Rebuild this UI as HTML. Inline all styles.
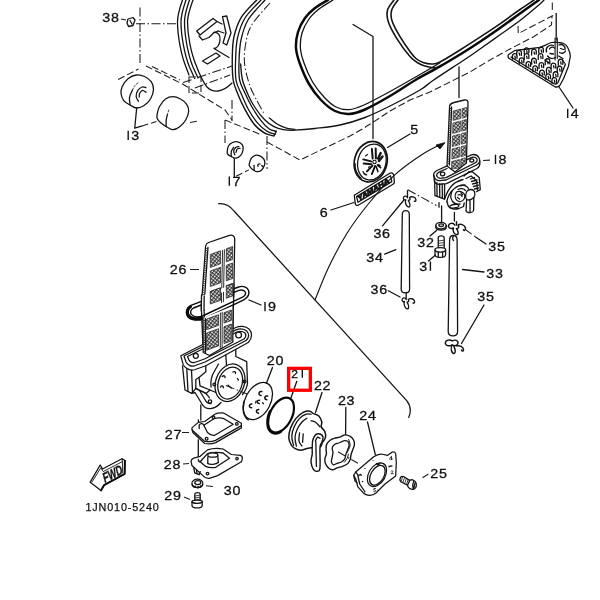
<!DOCTYPE html>
<html>
<head>
<meta charset="utf-8">
<title>Fuel tank parts diagram</title>
<style>
html,body{margin:0;padding:0;background:#fff;}
body{width:600px;height:600px;overflow:hidden;font-family:"Liberation Sans",sans-serif;}
svg{will-change:transform;display:block;position:absolute;left:0;top:0;}
.l{fill:none;stroke:#141414;stroke-width:1.3;stroke-linecap:round;stroke-linejoin:round;}
.m{fill:none;stroke:#0d0d0d;stroke-width:2;stroke-linecap:round;stroke-linejoin:round;}
.b{fill:none;stroke:#0a0a0a;stroke-width:2.5;stroke-linecap:round;stroke-linejoin:round;}
.w{fill:#fff;stroke:#141414;stroke-width:1.3;stroke-linecap:round;stroke-linejoin:round;}
.d{fill:none;stroke:#1c1c1c;stroke-width:1.05;stroke-dasharray:7 3;}
.dd{fill:none;stroke:#1c1c1c;stroke-width:1.05;stroke-dasharray:9 2.5 1.5 2.5;}
.t{font-family:"Liberation Sans",sans-serif;font-size:12.6px;fill:#111;stroke:#111;stroke-width:0.3px;}
.ts{font-family:"Liberation Sans",sans-serif;font-size:10.8px;letter-spacing:0.85px;fill:#111;stroke:#111;stroke-width:0.25px;}
</style>
</head>
<body>
<svg width="600" height="600" viewBox="0 0 600 600">
<rect x="0" y="0" width="600" height="600" fill="#fff"/>

<!-- ===== TANK: left strip ===== -->
<g id="tank">
<path class="l" d="M182.5,0 C179,10 177.5,15 177.5,22 C177.5,35 181,55 186,67 L189,75"/>
<path class="l" d="M186,0 C182.5,10 181,15 181,22 C181,35 184.5,55 189.5,67 L194,77"/>
<path class="l" d="M189.5,0 C186,10 184.5,15 184.5,22 C184.5,35 188,55 193,67 L198,78"/>
<path class="l" d="M193,0 C189.5,10 187.5,15 187.5,22 C187.5,35 191,53 196,65 C199,73 203,82 207,87 C213,93 222,93 232,83"/>
<!-- right strip -->
<path class="l" style="stroke-width:1.4" d="M256.7,0.0 C254.2,2.8 245.5,10.6 241.7,16.7 C237.9,22.8 235.6,29.8 234.0,36.7 C232.4,43.6 232.4,50.8 232.3,58.0 C232.2,65.2 232.3,74.0 233.2,80.0 C234.1,86.0 235.9,89.1 237.8,94.0 C239.7,98.9 242.1,104.2 244.8,109.2 C247.5,114.2 250.9,120.3 254.2,124.3 C257.5,128.3 261.4,131.2 264.7,133.1 C268.0,135.0 272.4,135.5 274.0,136.0 L276.3,131.3"/>
<path class="l" d="M261.0,0.0 C258.3,3.0 248.9,11.7 245.0,18.0 C241.1,24.3 239.1,31.0 237.5,38.0 C235.9,45.0 235.8,53.0 235.6,60.0 C235.3,67.0 235.1,74.3 236.0,80.0 C236.9,85.7 239.2,89.1 241.3,94.0 C243.4,98.9 245.6,104.3 248.3,109.2 C251.0,114.1 254.6,119.5 257.7,123.2 C260.8,126.9 264.1,129.5 267.0,131.3 C269.9,133.2 273.8,133.8 275.2,134.3"/>
<path class="l" d="M265.0,0.0 C262.2,3.3 252.0,13.3 248.0,20.0 C244.0,26.7 242.5,33.0 241.0,40.0 C239.5,47.0 239.2,55.3 239.0,62.0 C238.8,68.7 238.6,74.9 239.6,80.0 C240.6,85.1 242.8,88.3 244.8,92.8 C246.8,97.3 249.1,102.1 251.8,106.8 C254.5,111.5 258.3,117.1 261.2,120.8 C264.1,124.5 266.8,127.2 269.3,129.0 C271.8,130.8 275.1,130.9 276.3,131.3"/>
<path class="l" style="stroke-width:0.8;stroke-dasharray:1.2 1.2" d="M246.0,111.5 C247.5,113.8 251.8,121.8 255.0,125.5 C258.2,129.2 263.8,132.6 265.5,134.0"/>
<path class="dd" d="M270.0,3.0 C266.9,6.7 255.7,18.3 251.7,25.0 C247.7,31.7 247.0,36.7 245.8,43.0 C244.6,49.3 243.9,56.0 244.5,63.0 C245.1,70.0 247.7,79.0 249.5,84.7 C251.3,90.5 253.0,92.8 255.3,97.5 C257.6,102.2 262.1,110.2 263.5,112.7"/>
<path class="l" d="M269.3,118.0 C270.7,119.0 274.8,122.7 277.5,124.3 C280.2,125.9 282.8,126.9 285.7,127.8 C288.6,128.7 293.4,129.1 295.0,129.4"/>
</g>
<g id="tank2">
<!-- tank body bottom thin line -->
<path class="l" style="stroke-width:1.35" d="M240.6,64.0 C240.9,66.7 241.2,74.8 242.5,80.0 C243.8,85.2 246.2,90.5 248.3,95.2 C250.4,99.9 252.6,103.9 255.3,108.0 C258.0,112.1 261.6,116.6 264.7,119.7 C267.8,122.8 270.9,125.1 274.0,126.7 C277.1,128.3 279.8,129.0 283.3,129.6 C286.8,130.2 289.7,130.4 295.0,130.2 C300.3,130.0 307.5,129.4 315.0,128.5 C322.5,127.6 331.7,126.8 340.0,125.0 C348.3,123.2 356.7,120.7 365.0,117.5 C373.3,114.3 380.8,110.6 390.0,106.0 C399.2,101.4 412.8,94.2 420.0,90.0 C427.2,85.8 425.7,85.5 433.0,80.5 C440.3,75.5 456.2,65.2 464.0,60.0 C471.8,54.8 474.0,53.2 480.0,49.0 C486.0,44.8 493.3,39.5 500.0,34.8 C506.7,30.0 513.3,25.6 520.0,20.5 C526.7,15.4 536.0,7.4 540.0,4.0 C544.0,0.6 543.3,0.7 544.0,0.0"/>
<!-- first kneepad thick outline -->
<path class="b" d="M328.0,0.0 C325.8,1.3 318.8,5.0 315.0,8.0 C311.2,11.0 307.8,14.0 305.0,18.0 C302.2,22.0 299.5,27.0 298.0,32.0 C296.5,37.0 295.7,42.7 296.0,48.0 C296.3,53.3 297.8,58.0 300.0,64.0 C302.2,70.0 305.5,78.0 309.0,84.0 C312.5,90.0 316.7,95.5 321.0,100.0 C325.3,104.5 330.3,108.7 335.0,111.0 C339.7,113.3 344.0,114.2 349.0,114.0 C354.0,113.8 358.2,112.5 365.0,109.5 C371.8,106.5 381.6,100.9 390.0,96.0 C398.4,91.1 407.2,84.9 415.5,80.0 C423.8,75.1 432.6,70.7 440.0,66.4 C447.4,62.2 453.3,58.6 460.0,54.5 C466.7,50.4 473.3,46.1 480.0,41.7 C486.7,37.3 493.3,32.7 500.0,28.0 C506.7,23.3 513.5,18.2 520.0,13.5 C526.5,8.8 535.8,2.2 539.0,0.0"/>
<path class="l" d="M333.0,0.0 C330.7,1.5 323.0,5.8 319.0,9.0 C315.0,12.2 311.8,15.0 309.0,19.0 C306.2,23.0 303.4,28.2 302.0,33.0 C300.6,37.8 300.1,43.0 300.4,48.0 C300.7,53.0 302.0,57.3 304.0,63.0 C306.0,68.7 309.3,76.3 312.6,82.0 C315.9,87.7 320.1,92.8 324.0,97.0 C327.9,101.2 331.8,104.9 336.0,107.0 C340.2,109.1 344.3,109.9 349.0,109.6 C353.7,109.3 357.2,108.0 364.0,105.0 C370.8,102.0 380.7,96.6 390.0,91.5 C399.3,86.4 411.7,79.3 420.0,74.5 C428.3,69.7 436.7,64.7 440.0,62.7"/>
<!-- second kneepad -->
<path class="l" style="stroke-width:1.6" d="M394.0,0.0 C392.9,1.7 388.4,6.4 387.5,10.0 C386.6,13.6 386.8,17.0 388.3,21.7 C389.8,26.4 393.1,32.5 396.7,38.3 C400.3,44.1 406.4,52.4 410.0,56.5 C413.6,60.6 415.5,61.4 418.0,63.0 C420.5,64.6 422.5,65.2 425.0,66.0 C427.5,66.8 430.8,67.5 433.0,67.8 C435.2,68.0 437.2,67.5 438.0,67.5"/>
<path class="l" style="stroke-width:1.6" d="M398.0,0.0 C396.9,1.7 392.7,6.5 391.7,10.0 C390.7,13.5 390.6,16.4 392.0,20.8 C393.4,25.2 397.0,31.6 400.0,36.7 C403.0,41.8 407.3,47.9 410.0,51.5 C412.7,55.1 413.8,56.7 416.0,58.5 C418.2,60.3 420.3,61.6 423.0,62.5 C425.7,63.4 429.2,64.1 432.0,64.0 C434.8,63.9 435.3,64.3 440.0,62.0 C444.7,59.7 453.3,54.1 460.0,50.0 C466.7,45.9 473.3,41.6 480.0,37.2 C486.7,32.8 493.3,28.4 500.0,23.8 C506.7,19.2 514.3,13.5 520.0,9.5 C525.7,5.5 531.7,1.6 534.0,0.0"/>
<!-- dashed tank lines -->
<path class="d" d="M267,142 L300,160 L350,136 C365,128 378,119 390,111 L410,100 L430,92 L450,82 L470,72 L490,60 L510,49 L534,36.5 L551.5,25 L552,16"/>
<path class="d" d="M518,26 L518.3,33.5 L553,15.5"/>

<!-- clip between strips -->
<path class="l" d="M196.7,31 L213,18.5 L217,21.5 L200,35 Z"/>
<path class="l" d="M199,36 L202.5,40 L209,37.5 L214,32.5 L218,31"/>
<path class="l" d="M222.5,16.7 L226.7,16 L231,33 L226.7,45 L223,43 L226,33 Z"/>
<path class="l" d="M214,32.5 C218,32 220.5,35 220,40 C219.5,45 217,48 214,48.5 L229,57.5"/>
<path class="l" d="M202.5,61 L216,53 L220,56 L207.5,64 Z"/>
<path class="l" d="M217,21.5 L222,24 M218,31 L224,33"/>
<!-- dashed construction lines top-left -->
<path class="dd" d="M140,7.5 L140,65"/>
<path class="dd" d="M136,23.7 L176,23.7"/>
<path class="d" d="M118.2,79.5 L138.5,69"/>
<path class="d" d="M146,66 L182.5,84 L225,110 L232,120"/>
<path class="d" d="M152,66.5 L180,80"/>
<path class="dd" d="M183,82.5 L232,66"/>
<path class="dd" d="M195,88 L230,75"/>
<path class="d" d="M189,77 L201,77 L201,93 L189,93 Z" stroke-dasharray="3 2"/>
<path class="dd" d="M225,120 L225,143"/>
<path class="dd" d="M232,100 L232,121"/>
<path class="d" d="M225,120 L262,135"/>
<path class="dd" d="M267,136 L267,169"/>
<path class="d" d="M190,122.5 L199,121"/>
<!-- cushions 13 -->
<path class="w" style="stroke-width:1.3" d="M121.2,94.5 C120.8,92.1 120.9,89.6 122.0,87.0 C123.1,84.4 125.6,80.7 128.0,78.7 C130.4,76.7 133.4,75.4 136.2,75.0 C138.9,74.6 142.0,75.4 144.5,76.5 C147.0,77.6 149.7,79.6 151.2,81.7 C152.7,83.8 153.6,86.3 153.5,89.2 C153.4,92.1 152.1,96.2 150.5,99.0 C148.9,101.8 146.1,104.2 143.7,105.7 C141.3,107.2 138.4,108.1 136.2,108.0 C133.9,107.9 132.2,106.1 130.2,105.0 C128.2,103.9 125.7,103.0 124.2,101.2 C122.7,99.5 121.6,96.9 121.2,94.5 Z"/>
<path class="l" d="M130.2,105.0 C130.1,103.8 129.1,100.0 129.5,97.5 C129.9,95.0 132.0,91.2 132.5,90.0"/>
<path class="l" style="stroke-width:0.8;stroke-dasharray:2 1.5" d="M132.5,90.0 C132.9,89.2 133.9,86.8 135.0,85.5 C136.1,84.2 138.3,82.6 139.0,82.0"/>
<path class="l" d="M146.0,87.7 C145.4,87.6 143.6,86.5 142.2,87.0 C140.8,87.5 138.7,89.1 137.7,90.7 C136.7,92.3 136.1,95.0 136.2,96.7 C136.3,98.5 138.1,100.5 138.5,101.2"/>
<path class="l" d="M146.0,92.2 C145.4,91.9 143.6,90.1 142.5,90.3 C141.4,90.5 140.2,92.4 139.6,93.5 C139.0,94.6 139.3,96.4 139.2,97.0"/>
<path class="w" style="stroke-width:1.3" d="M157.2,114.0 C157.6,112.0 158.1,109.0 159.5,106.5 C160.9,104.0 163.2,100.6 165.5,99.0 C167.8,97.4 170.5,96.7 173.0,96.7 C175.5,96.7 178.2,97.8 180.5,99.0 C182.8,100.2 185.1,102.2 186.5,104.2 C187.9,106.2 188.8,108.4 188.7,111.0 C188.6,113.6 187.2,117.4 185.7,120.0 C184.2,122.6 181.8,125.1 179.7,126.7 C177.6,128.3 175.0,129.6 173.0,129.7 C171.0,129.8 169.7,128.6 167.7,127.5 C165.7,126.4 162.8,124.5 161.0,123.0 C159.2,121.5 157.8,120.0 157.2,118.5 C156.6,117.0 156.8,116.0 157.2,114.0 Z"/>
<path class="l" d="M166.2,126.5 C166.2,125.4 166.0,121.9 166.2,120.0 C166.4,118.1 167.1,115.8 167.3,115.0"/>
<path class="l" style="stroke-width:0.8;stroke-dasharray:2 1.5" d="M167.3,115 L168.8,110"/>
<path class="l" d="M136.7,108 L134.7,128.2 L141.5,126.2"/>
<path class="d" stroke-dasharray="4 2" d="M141.5,126.2 L156.5,121.5"/>
<!-- cushions 17 -->
<path class="w" style="stroke-width:1.3" d="M227.2,151.8 C227.3,150.4 227.5,147.6 228.4,146.0 C229.3,144.4 230.9,143.2 232.5,142.5 C234.1,141.8 236.2,141.5 237.8,141.9 C239.5,142.3 241.5,143.5 242.4,144.8 C243.3,146.2 243.3,148.2 243.0,150.0 C242.7,151.8 241.9,153.9 240.7,155.3 C239.5,156.7 237.6,158.0 236.0,158.2 C234.4,158.4 232.7,157.2 231.3,156.5 C229.9,155.8 228.5,155.0 227.8,154.2 C227.1,153.4 227.1,153.2 227.2,151.8 Z"/>
<path class="l" d="M231.3,156.5 C231.3,155.6 230.9,152.9 231.3,151.3 C231.7,149.8 233.3,147.9 233.7,147.2"/>
<path class="l" d="M238.9,146.6 C238.4,146.7 236.9,146.5 236.0,147.2 C235.1,147.9 233.9,149.4 233.7,150.7 C233.5,152.0 234.6,154.1 234.8,154.8"/>
<path class="l" d="M240.0,148.3 C239.6,148.4 238.0,148.2 237.3,148.9 C236.6,149.6 236.2,151.8 236.0,152.4"/>
<path class="w" style="stroke-width:1.3" d="M249.4,163.5 C249.7,162.2 250.2,159.7 251.2,158.3 C252.2,156.9 253.9,155.7 255.3,155.3 C256.8,154.9 258.4,155.2 259.9,155.9 C261.3,156.6 263.2,157.9 264.0,159.4 C264.8,160.9 265.0,162.9 264.6,164.7 C264.2,166.4 263.0,168.7 261.7,169.9 C260.4,171.1 258.6,171.8 257.0,171.7 C255.4,171.6 253.6,170.3 252.3,169.3 C251.0,168.3 249.9,166.8 249.4,165.8 C248.9,164.8 249.1,164.8 249.4,163.5 Z"/>
<path class="l" d="M254.1,169.9 L254.1,165.3"/>
<path class="l" d="M260,164 c-1.5,-0.5 -2.8,1 -2,2.4 M261.8,165.5 l0.8,1"/>
<path class="l" d="M234.3,158.3 L234.3,177"/>
<path class="d" stroke-dasharray="3.5 2.5" d="M236,176.3 L248.8,169.9"/>
<!-- part 38 -->
<path class="l" d="M128,19 L133,17.5 L135,20 L133,25.5 L128.5,26.5 L127,23 Z M130,20.5 L132,24"/>
<path class="d" d="M121,19 L126,20" stroke-dasharray="1.5 1.5"/>

</g>
<defs>
<pattern id="hatch" width="2.7" height="2.7" patternUnits="userSpaceOnUse" patternTransform="rotate(38)">
<rect width="2.7" height="2.7" fill="#fff"/>
<path d="M0,0.7 H2.7 M0.7,0 V2.7" stroke="#151515" stroke-width="0.92"/>
</pattern>
</defs>
<!-- ===== part 14 ===== -->
<g id="p14">
<path class="dd" d="M552.3,2.5 L552.3,10"/>
<path class="w" style="stroke-width:1.3" d="M508,56 C508,55 508.3,54.8 509,54.3 L515.3,50.3 L527.7,49 L540,47.3 L546.2,44.8 C549,43 552,42.2 555,42.2 L562.3,43 C565.5,44 567.5,46.5 568.4,49 C569.8,52 570.4,54 570.3,56.5 L568.4,66.4 L563.5,78.7 L559.8,85.5 C558.5,87 556.5,87.2 554.9,86.8 L508.5,58 Z"/>
<path class="l" d="M511,57 L553.8,83.6 C555.5,84.3 557,84 558,82.6 L565.5,64"/>
<path fill="none" stroke="#111" stroke-width="1.3" stroke-linecap="round" stroke-linejoin="round" d="M512.5,59.2 L512.4,56.2 C512.4,52.8 517.1,52.6 517.1,56.0 L517.0,58.4 M514.9,56.2 l0.4,2.2 M519.3,63.5 L519.2,60.5 C519.2,57.1 523.9,56.9 523.9,60.3 L523.8,62.7 M521.7,60.5 l0.4,2.2 M526.1,67.2 L526.0,64.2 C526.0,60.8 530.7,60.6 530.7,64.0 L530.6,66.4 M528.5,64.2 l0.4,2.2 M532.9,71.5 L532.8,68.5 C532.8,65.1 537.5,64.9 537.5,68.3 L537.4,70.7 M535.3,68.5 l0.4,2.2 M539.7,75.8 L539.6,72.8 C539.6,69.4 544.3,69.2 544.3,72.6 L544.2,75.0 M542.1,72.8 l0.4,2.2 M545.9,79.5 L545.8,76.5 C545.8,73.1 550.5,72.9 550.5,76.3 L550.4,78.7 M548.3,76.5 l0.4,2.2 M552.0,83.2 L551.9,80.2 C551.9,76.8 556.6,76.6 556.6,80.0 L556.5,82.4 M554.4,80.2 l0.4,2.2 M516.8,56.2 L516.7,53.0 C516.7,49.6 521.4,49.4 521.4,52.8 L521.3,55.4 M519.2,53.0 l0.4,2.2 M524.3,59.4 L524.2,56.2 C524.2,52.8 528.9,52.6 528.9,56.0 L528.8,58.6 M526.7,56.2 l0.4,2.2 M531.7,64.1 L531.6,60.9 C531.6,57.5 536.3,57.3 536.3,60.7 L536.2,63.3 M534.1,60.9 l0.4,2.2 M539.1,68.4 L539.0,65.2 C539.0,61.8 543.7,61.6 543.7,65.0 L543.6,67.6 M541.5,65.2 l0.4,2.2 M546.5,73.3 L546.4,70.1 C546.4,66.7 551.1,66.5 551.1,69.9 L551.0,72.5 M548.9,70.1 l0.4,2.2 M553.3,77.6 L553.2,74.4 C553.2,71.0 557.9,70.8 557.9,74.2 L557.8,76.8 M555.7,74.4 l0.4,2.2 M524.3,53.8 L524.2,50.6 C524.2,47.2 528.9,47.0 528.9,50.4 L528.8,53.0 M526.7,50.6 l0.4,2.2 M531.7,55.0 L531.6,51.8 C531.6,48.4 536.3,48.2 536.3,51.6 L536.2,54.2 M534.1,51.8 l0.4,2.2 M538.3,59.4 L538.2,56.2 C538.2,52.8 542.9,52.6 542.9,56.0 L542.8,58.6 M540.7,56.2 l0.4,2.2 M545.3,64.6 L545.2,61.4 C545.2,58.0 549.9,57.8 549.9,61.2 L549.8,63.8 M547.7,61.4 l0.4,2.2 M551.2,68.9 L551.1,65.7 C551.1,62.3 555.8,62.1 555.8,65.5 L555.7,68.1 M553.6,65.7 l0.4,2.2 M557.3,72.1 L557.2,68.9 C557.2,65.5 561.9,65.3 561.9,68.7 L561.8,71.3 M559.7,68.9 l0.4,2.2 M538.8,53.1 L538.7,49.9 C538.7,46.5 543.4,46.3 543.4,49.7 L543.3,52.3 M541.2,49.9 l0.4,2.2 M558.3,65.1 L558.2,61.9 C558.2,58.5 562.9,58.3 562.9,61.7 L562.8,64.3 M560.7,61.9 l0.4,2.2 "/>
<path fill="none" stroke="#111" stroke-width="1.3" stroke-linecap="round" d="M546.5,52 c-1.5,-4.5 3,-8 7,-6.5 M547.5,56 c2,2.5 5.5,3 8,1.5 M549.5,49 c1,-2 3.5,-2.5 5,-1 M550,53.5 l3.5,0.5 M559,45 c3.5,-1.5 6.5,1 6,4.5 M559.5,52.5 c2.5,1.5 5,0.5 6,-1.5 M560.5,48.5 l3,1 M558.5,56 l4.5,2.5 M545,60 l4,3 M562.5,60 l2,3"/>
<path class="l" d="M556.2,13.5 L556.2,40"/>
<path class="l" style="stroke-width:1.1" d="M555.1,38 L555.1,60 M557.3,38 L557.3,58.5"/>
<path class="l" d="M558.7,86.5 L573,108"/>
</g>
<!-- ===== strainer + petcock 18 ===== -->
<g id="p18">
<path class="l" d="M459,67 L459,97.5"/>
<path class="w" d="M449.6,106 C450,104 452,103 454,102.5 L464.5,100 C467,99.6 468.2,100.5 468,103 L466.4,163 L455,172 L447,166 Z"/>
<path class="l" d="M451.6,107 L449.4,165"/>
<path d="M450.5,108 L448.5,164" fill="none" stroke="#222" stroke-width="1.2" stroke-dasharray="0.9 1.3"/>
<g fill="url(#hatch)" stroke="#222" stroke-width="0.6">
<path d="M453.2,111 L460.8,109 L460.6,118.5 L453,120.5 Z"/>
<path d="M462.2,108.6 L466.8,107.4 L466.6,117 L462,118.2 Z"/>
<path d="M452.9,123 L460.5,121 L460.2,131.5 L452.6,133.5 Z"/>
<path d="M461.9,120.6 L466.5,119.4 L466.2,130 L461.6,131.2 Z"/>
<path d="M452.5,136 L460.1,134 L459.9,144.5 L452.2,146.5 Z"/>
<path d="M461.5,133.6 L466.1,132.4 L465.9,143 L461.3,144.2 Z"/>
<path d="M452.1,149 L459.8,147 L459.5,157 L451.8,159 Z"/>
<path d="M461.2,146.6 L465.8,145.4 L465.5,155.5 L460.9,156.7 Z"/>
<path d="M451.7,161.5 L459.4,159.5 L459.2,168 L451.5,169 Z"/>
<path d="M460.8,159 L465.4,157.8 L465.2,163.5 L460.6,166.5 Z"/>
</g>
<!-- flange -->
<path class="l" d="M447.2,165.8 L437,170.5 C434,172 433,174.5 434.2,177 C435.5,179.8 438.5,181 441.5,180.3 L446,180 L476.5,165 C479.5,163.5 480.3,160.5 479,157.8 C477.5,155 474.5,154 471.5,154.8 L466.6,157"/>
<path class="l" d="M447,168.5 L439,172.2 C437,173.3 436.3,175 437,176.5 C438,178.2 440,178.6 442,178 L446,177.6 L475,163 C477,162 477.6,160.3 476.8,158.8 C475.8,157.2 474,156.8 472,157.3 L466.5,159.8"/>
<path class="l" d="M434,176 L434.3,181 C435.5,184 438.5,184.8 441.5,184 L446.5,183.6 L477,168.5 C479.5,167 480.3,165 479.8,161"/>
<ellipse class="l" cx="442.6" cy="174" rx="2.2" ry="1.8"/>
<ellipse class="l" cx="471.8" cy="160.4" rx="2" ry="1.6"/>
<!-- body -->
<path class="l" d="M434.6,180.5 L435,195.7 L444.5,199.2 L444.6,184.5 M436.9,182.5 L437.1,196.4 M439.6,183.6 L439.8,197.4 M442.2,184.2 L442.4,198.4"/>
<path class="l" d="M444.6,199 C446,195 448,189.5 452,185.5 C455,182.5 459,180.5 463,179.5"/>
<path class="l" d="M446.8,201.5 C448,196 450.5,191.5 454.5,188.5 C457.5,186 461.5,184.5 465,185"/>
<path class="l" d="M452,191.5 C450.5,194.5 450.5,198.5 452.5,201.5 C454,203.5 457,204.5 460,204"/>
<path class="l" d="M468.7,172 L472,171.5 L479.2,177.5 L480.3,189.6 L476.4,191.8"/>
<path class="l" d="M464,176 L468.7,172 M466,178.5 L471,176 L476.5,180.5 L477.5,190"/>
<path class="l" d="M470.5,179 L474.5,177.5 M471.5,181.5 L477,180 M472.5,184 L478,182.5 M473.5,186.5 L478.5,185.2 M474.5,189 L478.5,188"/>
<path class="l" d="M460,186 C463,184.5 467,185.5 468.5,188.5 M458,189.5 C460.5,188 464,188.5 465.5,190.5"/>
<path d="M456.5,192 C459,190.5 463,191.5 464.5,194.5 C465.5,197.5 464,200.5 461,201.5 C458,202 455.5,200 455.2,197 C455,195 455.5,193.2 456.5,192 Z" fill="#fff" stroke="#141414" stroke-width="1.2"/>
<path class="l" d="M458,195 C459.5,194 461.5,194.8 462,196.5 M457.5,197.5 l2,1.5 M461,192.8 l1.6,2"/>
<path class="w" d="M466.8,191.5 C468.5,188.8 473,188.8 474.4,191.5 C475.2,193.5 474.8,196 473.8,197.5 L473.6,210.5 C473.2,212.6 469.5,213.2 466.8,211.8 C465.8,211 465.8,209.5 466.2,208.5 L466.6,199.5 C465.2,197.5 465.5,193.5 466.8,191.5 Z"/>
<path class="l" d="M466.7,199.5 C468.5,200.3 471.5,199.8 473.7,197.5 M470,200.5 L470,211.5"/>
<path class="l" d="M446.8,201.5 L448.5,206.5 C450,209 455,209.5 459,208.5 L463.5,206.5 L464.2,203"/>
<ellipse class="l" cx="454.3" cy="206.2" rx="4.6" ry="1.7" transform="rotate(-8 454.3 206.2)"/>
<path class="l" d="M439,202.6 L439,207.2 M441.6,206 L441.6,221.5 M454.4,212.5 L454.4,221"/>
</g>

<!-- ===== emblems 5 / 6 ===== -->
<g id="emblems">
<path class="l" d="M353,24.5 L373,36.5 L373,138.5"/>
<g transform="translate(370.7,161.7) rotate(15)">
<ellipse class="w" cx="0" cy="0" rx="16.3" ry="20.5" style="stroke-width:1.7"/>
<ellipse class="l" cx="1.2" cy="0" rx="14" ry="18.2"/>
<path class="l" d="M-14.5,6 C-13.5,11 -10,16 -5,18.5"/>
</g>
<g transform="translate(374.5,162)" stroke="#111" fill="none" stroke-linecap="round">
<circle cx="0" cy="0" r="1.7" stroke-width="1.1"/>
<path stroke-width="2" d="M-1.8,-3.4 L-2.6,-13 M1.4,-3.6 L1.2,-13.5"/>
<path stroke-width="2" d="M-3.4,-0.6 L-11.2,-2.6 M-3.2,2.2 L-10.8,1.6"/>
<path stroke-width="2" d="M-2,3.6 L-7.5,9.4 M0.6,4 L-2.6,12"/>
<path stroke-width="2.4" d="M3.6,-3.4 L6.2,-9 M4.4,-1 L8,-5.5"/>
<path stroke-width="1.6" d="M3,2.8 L6.2,5.6 M1.6,4.6 L3.4,9.6"/>
<circle cx="4.4" cy="3.6" r="1.1" stroke-width="1"/>
<circle cx="-5" cy="5.4" r="1" stroke-width="1"/>
<path stroke-width="1.1" d="M-11.5,9.5 c0.5,2 2,3.2 3.8,3.4 M-9,-6 l2,-1.5"/>
</g>
<path class="l" d="M387.5,147.5 L410,134"/>
<path class="w" style="stroke-width:1.3" d="M354.3,195.2 L389.8,173.3 C391.5,172.5 393.3,173.2 393.6,175 L394.4,181.5 C394.5,182.8 394,183.6 393,184.2 L358.2,205.2 C357,205.8 355.6,205.2 355.3,204 Z"/>
<path class="l" d="M356.6,196.6 L390.5,175.8 L391.8,181.6 L358,202.3 Z"/>
<text transform="translate(358.6,201.6) rotate(-31.5) skewX(-18)" font-family="Liberation Sans, sans-serif" font-weight="bold" font-size="7.4" letter-spacing="-0.25" fill="#111" stroke="#111" stroke-width="0.75" textLength="36" lengthAdjust="spacingAndGlyphs">YAMAHA</text>
<path class="l" d="M331,210 L354,202.5"/>
</g>
<!-- ===== detail bracket + arrow ===== -->
<g id="bracket">
<path class="l" style="stroke-width:1.25" d="M218.7,203.6 C225,203.2 230,205.5 234,211 L406.7,400.7 C410.5,405.5 411.5,411 408.7,417.5"/>
<path class="l" style="stroke-width:1.15" d="M315.0,300.0 C317.2,294.7 323.0,279.1 328.3,268.0 C333.6,256.9 340.3,244.0 347.0,233.3 C353.7,222.6 360.3,213.8 368.3,204.0 C376.3,194.2 386.1,182.9 395.0,174.7 C403.9,166.5 414.1,159.7 421.7,154.7 C429.2,149.7 437.2,146.2 440.3,144.5"/>
<path d="M445,142.6 L436,145 L440,149 Z" fill="#111" stroke="#111" stroke-width="0.8" stroke-linejoin="round"/>
</g>
<!-- ===== tubes ===== -->
<g id="tubes">
<path class="w" style="stroke-width:1.3" d="M402.3,214.5 C402.3,209.2 409.3,209.2 409.3,214.5 L409.6,289 C409.6,294.3 401.2,294.3 401.2,289 Z"/>
<path class="w" style="stroke-width:1.3" d="M449.6,240 C449.6,234 457.1,234 457.1,240 L457.6,331.5 C457.6,337.3 448.2,337.3 448.2,331.5 Z"/>
<path class="l" d="M453.2,236.5 C452.4,238 452.6,239.6 453.6,240.6"/>
<!-- washer 32 -->
<ellipse class="w" cx="441" cy="225.6" rx="5.2" ry="3.2"/>
<path class="l" d="M435.8,225.6 L435.8,227.6 C436.3,230.8 445.7,230.8 446.2,227.6 L446.2,225.6"/>
<ellipse class="l" cx="441.2" cy="225.2" rx="2.3" ry="1.3"/>
<!-- bolt 31 -->
<path class="w" d="M438.2,238 C438.2,235.2 444.2,235.2 444.2,238 L444.2,248.5 L438.2,248.5 Z"/>
<path class="l" style="stroke-width:0.8" d="M438.4,241 l5.6,-0.8 M438.4,243.4 l5.6,-0.8 M438.4,245.8 l5.6,-0.8"/>
<path class="w" d="M435,249.5 C435,247 445.6,247 445.6,249.5 L445.6,254.5 C445.6,258.4 435,258.4 435,254.5 Z"/>
<path class="l" d="M435,250 C436,252.8 444.6,252.8 445.6,250 M438.3,252.2 L438.3,257 M442.6,252.2 L442.6,257"/>
</g>

<!-- ===== strainer 26 + gasket 19 + body ===== -->
<g id="p26">
<path class="w" d="M205.6,246.3 C205.8,244.3 206.8,243.2 208.5,242.5 L229.5,235.4 C232.5,234.6 234.6,236 234.7,239 L233.9,290 L233.2,312 L232.8,342 L209.5,355.5 L203.2,352.5 L201.3,306 Z"/>
<path class="l" d="M208,247.3 L204,306 L205.5,353.5"/>
<path d="M206.8,248 L202.7,300" fill="none" stroke="#222" stroke-width="1.5" stroke-dasharray="0.9 1.3"/>
<path class="l" style="stroke-width:0.9" d="M222.6,250.5 L221.5,300 M224.4,249.8 L223.4,299.3"/>
<g fill="url(#hatch)" stroke="#1a1a1a" stroke-width="0.7">
<path d="M210.3,254.5 L220.5,250.8 L220.5,263.8 L210.3,267.5 Z"/>
<path d="M226.3,248.8 L232.6,246.5 L232.6,259.5 L226.3,261.8 Z"/>
<path d="M210.3,271.0 L220.5,267.3 L220.5,282.8 L210.3,286.5 Z"/>
<path d="M226.3,265.3 L232.6,263.0 L232.6,278.5 L226.3,280.8 Z"/>
<path d="M210.3,291.5 L220.5,287.8 L220.5,300.3 L210.3,304.0 Z"/>
<path d="M226.3,285.8 L232.6,283.5 L232.6,296.0 L226.3,298.3 Z"/>
</g>
</g>
<g id="p19">
<path d="M191,305.3 L238.5,287 C243,285.5 247.2,287 248.6,290.5 C249.8,294.5 247.8,297.6 243.8,299.8 L203.5,319 C197,321.3 190,320 187.3,316 C185,312 186.8,307.3 191,305.3 Z" fill="none" stroke="#0a0a0a" stroke-width="1.4" stroke-linejoin="round"/>
<path d="M193.5,308 L239,290.4 C242,289.5 244.4,290.2 245.4,292.2 C246,294.2 245,295.8 242.5,297.2 L202.5,316 C198,317.5 193.5,316.8 191.3,314.4 C189.8,312 190.8,309.5 193.5,308 Z" fill="none" stroke="#0a0a0a" stroke-width="1.4" stroke-linejoin="round"/>
<path d="M190.5,306.8 C187.5,308.5 186.6,312.3 188.2,315.2 C190.5,318.5 196,319.6 201.5,318" fill="none" stroke="#0a0a0a" stroke-width="3" stroke-linecap="round"/>
<path d="M201.4,296 L201.2,311 L233.5,298 L233.8,284 Z" fill="#fff" stroke="none"/>
<path class="l" d="M201.5,295 L201.3,311 M233.9,284 L233.5,298 M204.2,296 L204,310"/>
<path class="l" style="stroke-width:0.9" d="M221.6,293 L221.5,302.5 M223.5,292.3 L223.4,301.8"/>
<g fill="url(#hatch)" stroke="#1a1a1a" stroke-width="0.7">
<path d="M210.3,291.5 L220.5,287.8 L220.5,300.3 L210.3,304.0 Z"/><path d="M226.3,285.8 L232.6,283.5 L232.6,296.0 L226.3,298.3 Z"/>
</g>
<path class="l" d="M249,300 L261,305"/>
<path class="dd" d="M190,269.5 L201,269.5"/>
</g>
<g id="body">
<!-- top flange plate -->
<path class="w" style="stroke-width:1.2" d="M180.8,355.8 L235.8,327.5 C240,325.5 245.5,326 249,329 C252.5,332.5 252.5,338 248.3,342.5 L205.8,365.8 L194.5,369.8 C190.5,371 185.5,368.5 183.3,365 Z"/>
<path class="l" d="M184,356 L236,329.8 C240,328.3 244.5,329 247,331.3 C249.3,334 249,337.5 246,340.5 L205,362 L194,366 C191,366.7 187.5,365 186,362 Z"/>
<path class="l" d="M187.5,356.5 L237,332 C240,331 243,331.3 245,333 C246.5,335 246,337 244,339 L204.5,359 L194.5,362.5 C192,363 190,362 189,360 Z"/>
<circle class="l" cx="195.8" cy="355.8" r="2.5"/>
<circle class="l" cx="238.6" cy="335" r="2.9"/>
<!-- strainer through flange: white cover then redraw bottom -->
<path d="M203,318 L233,306 L232.8,342 L209.5,355.5 L203.2,352.5 Z" fill="#fff"/>
<path class="l" d="M203,317.5 L203.2,352.5 L209.5,355.5 L232.8,342 L233.1,305.5 M205.3,318.5 L205.5,353.5"/>
<path d="M204.2,320 L204.4,352" fill="none" stroke="#222" stroke-width="1.3" stroke-dasharray="0.9 1.3"/>
<path class="l" style="stroke-width:0.9" d="M220.4,313 L220.3,348.5 M222.2,312.2 L222.1,347.5"/>
<g fill="url(#hatch)" stroke="#1a1a1a" stroke-width="0.7">
<path d="M206.6,319.0 L218.5,314.7 L218.5,325.4 L206.6,329.7 Z"/>
<path d="M224.0,312.7 L231.4,310.0 L231.4,320.4 L224.0,323.1 Z"/>
<path d="M206.6,333.0 L218.5,328.7 L218.5,345.9 L206.6,350.2 Z"/>
<path d="M224.0,326.7 L231.4,324.0 L231.4,340.9 L224.0,343.6 Z"/>
</g>
<!-- body below -->
<path class="l" d="M182.5,365.8 L185,390 L191.7,393.3 L195.8,388.3"/>
<path class="l" d="M186.8,369 L188,391.5 M191.5,370.3 L192.5,392.3"/>
<path class="l" d="M205.8,366 L205.8,371.7 L199,377.5 L200,385.8 L210,390"/>
<path class="l" d="M199,377.5 L195.8,379.5 L195.8,388.3 L206,393.5 L210,390 L216,392.5"/>
<path class="l" d="M235.8,349.5 L235.8,356.5 L246.7,361.7 L247.5,383.3 C247,388 245,391.5 242.5,394.5"/>
<path class="l" d="M225.8,355 L226.6,366.5"/>
<g transform="translate(230,382.7) rotate(20)">
<ellipse class="w" cx="0" cy="0" rx="14.3" ry="19.3"/>
<ellipse class="l" cx="0.3" cy="0.3" rx="11.8" ry="16.4"/>
<path class="l" d="M-9.5,-3 c1,-2 3,-2 3,0 M-1,-11 c1.5,-1.5 3,-1 3,0.5 M-7.5,7.5 c0,-2 2.5,-2.5 3,-0.5 M5.5,-6.5 l1.5,1.2 M-1,3 l4,1.5"/>
</g>
<path class="l" d="M214,372 C211.5,376 210.5,381.5 211,387 M218.5,364 L214,372"/>
<circle class="l" cx="244.6" cy="381.5" r="1.4"/>
<circle class="l" cx="214.3" cy="384.5" r="1.4"/>
<!-- mounting ear -->
<path class="l" d="M191.7,393.3 L195,392.5 L202,404 C203.5,407 206.5,408.8 210.5,408.6 C214.5,408.3 218.5,405.5 221,402.5"/>
<path class="l" d="M195.8,388.3 L199.5,390.5 L205.5,400.5 C206.5,402.5 208.5,403.8 211,403.6 M200.5,390.8 C204,391.5 207.5,394.5 209.5,398"/>
<circle class="l" cx="210" cy="401.5" r="1.7"/>
<path class="dd" d="M226,385.5 L247,394"/>
<path class="l" d="M200.8,405 L200.8,420"/>
</g>

<!-- ===== disc 20, o-ring 21, lever 22, gasket 23 ===== -->
<g id="p20">
<g transform="translate(257.9,401) rotate(28)">
<ellipse class="w" style="stroke-width:1.3" cx="0" cy="0" rx="12.65" ry="20"/>
<path class="l" d="M-12.2,7 C-10.5,14.5 -5.5,20.6 0.5,21.2 "/>
</g>
<path fill="none" stroke="#111" stroke-width="1.5" stroke-linecap="round" d="M261.8,391.6 c-3.2,-0.6 -4,3.4 -0.8,4 M267.6,396 c-3.2,-0.6 -3.8,3.2 -0.8,3.8 M251.8,404 c-3,0 -3.2,3.8 -0.2,3.8 M258.8,409.4 c-3,-0.2 -3.2,3.6 -0.2,3.8 M259.6,400.2 c-2.8,-0.4 -3.2,3 -0.4,3.4"/>
<path class="l" d="M256.2,401 l-0.6,2 M262.6,402.6 l0.8,1.2"/>
<path class="l" d="M272.5,367.5 L266.3,383.5"/>
</g>
<g id="p21">
<g transform="translate(281,415.1) rotate(27)">
<ellipse cx="0" cy="0" rx="11" ry="18.8" fill="none" stroke="#0a0a0a" stroke-width="2.2"/>
<path d="M-11.4,2 C-10.8,11.5 -6,19.2 0,19.5 C3,19.4 5.5,17.8 7.2,15" fill="none" stroke="#0a0a0a" stroke-width="2.8" stroke-linecap="round"/>
</g>
<path class="l" d="M296.8,381.3 L291,397.8"/>
<rect x="288.65" y="368.35" width="21.7" height="21.9" fill="none" stroke="#ff0000" stroke-width="3.3"/>
</g>
<g id="p22">
<path class="l" d="M322,392.5 L315.5,412.5"/>
<path class="w" style="stroke-width:1.5" d="M291.2,444.8 C290.2,443.0 288.9,440.4 288.8,437.6 C288.7,434.8 289.4,431.2 290.6,428.0 C291.8,424.8 293.9,421.0 296.0,418.4 C298.1,415.8 300.9,413.6 303.2,412.4 C305.5,411.2 308.1,411.0 309.8,411.2 C311.5,411.4 311.9,412.8 313.4,413.6 C314.9,414.4 317.4,414.6 318.8,416.0 C320.2,417.4 321.4,420.2 321.8,422.0 C322.2,423.8 320.7,425.2 321.2,426.8 C321.7,428.4 324.1,429.8 324.8,431.6 C325.5,433.4 325.8,435.8 325.4,437.6 C325.0,439.4 323.3,440.8 322.4,442.4 C321.5,444.0 321.8,446.3 320.0,447.2 C318.2,448.1 313.8,447.6 311.6,447.8 C309.4,448.0 308.6,448.2 306.8,448.6 C305.0,449.0 302.8,450.2 300.8,450.2 C298.8,450.2 296.4,449.3 294.8,448.4 C293.2,447.5 292.2,446.6 291.2,444.8 Z"/>
<path class="l" d="M293.6,445.4 C293.3,443.9 291.7,439.5 291.8,436.4 C291.9,433.3 292.9,429.8 294.2,426.8 C295.5,423.8 297.6,420.5 299.6,418.4 C301.6,416.3 304.3,414.9 306.2,414.2 C308.1,413.5 310.2,414.2 311.0,414.2"/>
<path class="l" d="M296.4,446.2 C296.1,444.8 294.9,440.4 295.0,437.6 C295.2,434.8 296.0,431.8 297.2,429.2 C298.4,426.6 300.4,423.8 302.0,422.0 C303.6,420.2 306.0,418.8 306.8,418.2"/>
<path class="l" d="M299.6,432.8 C299.5,434.2 298.6,439.0 299.0,441.2 C299.4,443.4 301.5,445.2 302.0,446.0"/>
<path class="l" d="M303.2,434.0 C303.1,435.4 302.7,441.0 302.6,442.4"/>
<path class="l" d="M311.0,420.8 C311.7,421.0 313.7,421.0 315.2,422.0 C316.7,423.0 319.2,426.0 320.0,426.8"/>
<path class="w" style="stroke-width:1.4" d="M312.2,448.4 C312.3,446.0 312.2,442.3 312.8,440.0 C313.4,437.7 314.6,435.6 315.8,434.6 C317.0,433.6 318.8,433.6 320.0,434.0 C321.2,434.4 322.7,435.6 323.0,437.0 C323.3,438.4 322.3,440.7 321.8,442.4 C321.3,444.1 320.3,443.0 320.0,447.2 C319.7,451.4 320.4,463.6 320.0,467.6 C319.6,471.6 318.7,470.9 317.6,471.2 C316.5,471.5 314.5,471.0 313.4,469.4 C312.3,467.8 311.2,464.1 311.0,461.6 C310.8,459.1 312.0,456.6 312.2,454.4 C312.4,452.2 312.1,450.8 312.2,448.4 Z"/>
<path class="l" d="M315.4,440.6 C315.8,440.0 316.8,437.6 317.6,437.2 C318.4,436.9 319.6,438.2 320.0,438.4"/>
<path class="l" d="M315.8,441.2 L316.4,466.4"/>
</g>
<g id="p23">
<path class="l" d="M345.8,407.5 L345.6,434.5"/>
<path class="w" style="stroke-width:1.4" d="M345.6,434.9 C346.8,435.1 348.9,435.5 350.2,436.4 C351.6,437.3 353.0,438.9 353.7,440.3 C354.4,441.7 354.6,443.2 354.4,444.9 C354.2,446.5 353.1,448.6 352.5,450.2 C351.9,451.9 351.4,453.3 351.0,454.8 C350.6,456.4 350.8,458.0 350.2,459.4 C349.6,460.9 348.8,462.5 347.5,463.7 C346.2,464.8 344.3,465.6 342.5,466.3 C340.8,467.0 338.8,467.3 337.2,467.9 C335.5,468.5 334.0,469.8 332.6,469.8 C331.1,469.8 329.6,469.0 328.4,467.9 C327.1,466.8 325.9,464.8 325.3,463.3 C324.7,461.7 324.7,460.2 324.9,458.7 C325.1,457.1 326.2,455.6 326.4,454.1 C326.6,452.5 326.1,451.0 326.1,449.5 C326.1,447.9 325.9,446.3 326.4,444.9 C327.0,443.4 328.2,441.7 329.5,440.7 C330.8,439.6 332.4,438.9 334.1,438.4 C335.8,437.8 337.9,437.7 339.5,437.2 C341.0,436.7 342.3,435.7 343.3,435.3 C344.3,434.9 344.5,434.7 345.6,434.9 Z"/>
<path class="l" style="stroke-width:1.3" d="M344.1,440.7 C345.0,440.7 347.1,440.6 347.9,441.4 C348.7,442.3 349.1,444.2 349.1,445.6 C349.0,447.1 348.0,448.8 347.5,450.2 C347.0,451.6 346.4,452.7 346.0,454.1 C345.5,455.5 345.5,457.4 344.8,458.7 C344.1,460.0 343.1,461.0 341.8,461.7 C340.5,462.5 338.6,462.8 337.2,463.3 C335.8,463.8 334.3,465.1 333.3,464.8 C332.4,464.6 331.6,463.0 331.4,461.7 C331.2,460.5 331.9,458.7 332.2,457.1 C332.4,455.6 333.0,454.1 333.0,452.5 C333.0,451.0 331.9,449.3 332.2,447.9 C332.4,446.6 333.4,445.3 334.5,444.5 C335.6,443.7 337.4,443.5 338.7,443.0 C340.0,442.4 341.6,441.8 342.5,441.4 C343.4,441.0 343.2,440.7 344.1,440.7 Z"/>
<path class="l" style="stroke-width:1" d="M348.7,439.5 C348.9,440.5 350.3,443.5 350.1,445.6 C349.8,447.8 347.6,451.4 347.1,452.5"/>
<path class="l" style="stroke-width:1" d="M344.5,462.1 C345.0,461.4 346.9,458.9 347.5,457.5 C348.2,456.2 348.2,454.6 348.3,454.1"/>
<path class="dd" stroke-dasharray="3 2.5" d="M337.9,451.8 L357.9,463.3"/>
</g>

<!-- ===== plate 24 + screw 25 ===== -->
<g id="p24">
<path class="l" d="M367.5,422 L375.3,454.5"/>
<path class="w" style="stroke-width:1.25" d="M353.7,475.3 L355.7,472 L373.7,456.7 C376,455 378.5,454 381,454 L387.7,455.3 L392.3,452 C394,451.5 395.5,452.5 395.7,454 L396.3,462.7 L395.7,476 L385,484 L375.7,493.3 C373.5,495 371.5,495.5 369,495.3 C366.5,495 365,494.5 363.7,493.3 L357.7,486.7 L355.7,478.7 Z"/>
<path class="l" d="M355.7,472 L357.7,474.7 L359.7,484 L365,492"/>
<path class="l" d="M353.7,475.3 L355,481 L357,482.5"/>
<g transform="translate(377,474.7) rotate(30)">
<ellipse class="l" style="stroke-width:1.2" cx="0" cy="0" rx="8.3" ry="12.8"/>
<ellipse class="l" cx="0.6" cy="0.3" rx="6.5" ry="10.8"/>
</g>
<path class="l" d="M376.5,463.5 l1.5,1.5 l2,-1.5"/>
<path class="l" d="M358.7,476 c0.3,-1.7 2,-2 2.6,-0.6"/>
<g fill="#111"><circle cx="365" cy="468.6" r="0.7"/><circle cx="362.5" cy="481.5" r="0.7"/><circle cx="373" cy="460.5" r="0.6"/><circle cx="378" cy="490" r="0.6"/></g>
<path class="l" style="stroke-width:0.8" d="M390,458 l1.5,-1.8 l0,3.5 M389.5,459 l3,0 M391,471.3 c1,-1.2 2.5,-0.3 1.6,0.8 l-1.6,1.6 l2.4,0 M375.5,488.5 l-1.6,0 l-0.2,1.5 c1.4,-0.6 2.3,0.3 1.8,1.3 c-0.5,0.8 -1.6,0.7 -2,0"/>
<path class="l" d="M389,466.5 l3,-0.7"/>
<!-- screw 25 -->
<path class="w" d="M400.5,477.5 C401.5,476.2 403,476.2 404,476.8 L410,480.6 L407.8,485.5 L400.8,481.6 C399.8,480.6 399.8,478.8 400.5,477.5 Z"/>
<path class="l" style="stroke-width:0.8" d="M402.6,477 l-1.2,3.6 M404.4,478 l-1.3,3.8 M406.2,479 l-1.3,3.9 M408,480 l-1.3,4"/>
<path class="w" d="M410,480.2 C412,479 415.5,480.5 416.2,483.5 C416.8,486.5 415.5,489.2 413.2,489.4 C410.5,489.6 407.5,487.5 407.6,485 Z"/>
<path class="l" d="M413.6,481.5 C412.5,484 412.3,486.8 413.2,489.2 M415,483 l-1,4.5"/>
<path class="d" stroke-dasharray="4 2" d="M422.5,477.7 L429,473.6"/>
</g>
<!-- ===== gasket 27, cover 28, 29, 30 ===== -->
<g id="p27">
<path class="l" d="M198.3,420 L199,425 M198.3,439.8 L198.3,460"/>
<path class="w" style="stroke-width:1.25" d="M191.9,427.9 L198.3,422.4 L204.7,421.5 L214.8,414.2 C217.5,413 221,412.8 224,413.2 L241.4,423.3 L241.4,427.9 L215.7,442.6 C212,444 208,444.2 204.7,443.5 L192.8,432.5 Z"/>
<path class="l" d="M203.8,425.2 L213.9,418.7 C217,417.6 221,417.6 224,418.7 L233.2,424.2 L214.8,435.2 C212,436 209.5,434.5 207.5,432.5 Z"/>
<path class="l" d="M192,430 L204.5,441.2 C208,442 212,441.8 215.5,440.4 L241.4,425.6"/>
<path class="l" d="M199.2,425 C200.5,423 203,423.5 203.8,425.2 M199.2,425 L199.2,428.5"/>
<circle class="l" cx="213.5" cy="417.3" r="1.3"/><circle class="l" cx="236.8" cy="423.9" r="1.3"/><circle class="l" cx="206.6" cy="438.7" r="1.4"/>
<path class="d" stroke-dasharray="4 2.5" d="M182,432.5 L190,432.5"/>
</g>
<g id="p28">
<path class="w" style="stroke-width:1.25" d="M191,460.9 C191.5,459.5 192.5,458.7 193.7,458.2 L200.2,456.3 L207.5,449.9 C212,448.3 218.5,448.2 223.1,449 L231.3,454.5 L240.5,455.4 C242,456 242.6,457.5 242.3,459.1 L241.4,461.8 L217.6,475.6 L209.3,478.3 C207,478.6 204.5,477.5 202.9,475.6 L191.9,465.5 Z"/>
<path class="l" d="M200.2,461.8 L207.5,453.6 C212,452.3 218.5,452.2 223.1,453 L229.5,458.2 L215.7,467.3 C212,468 208.5,467.7 205.7,466.4 Z"/>
<path class="l" d="M207.8,456.8 L207.8,463.5 M217.8,455.5 L218.3,462.5"/>
<ellipse class="w" cx="212.8" cy="455" rx="5" ry="2.2"/>
<path class="l" d="M207.8,463.5 C210,465 216,464.5 218.3,462.5"/>
<path class="l" d="M193.7,467.3 L194.7,472.8 L199.2,474.7 L200.2,471.5"/>
<path class="l" d="M196.5,469.8 L197,473.5"/>
<circle class="l" cx="207.5" cy="473.6" r="1.3"/>
<circle class="l" cx="237" cy="458.6" r="1.2"/>
<path class="l" d="M198.3,459.5 C198.8,462 200,462.5 200.2,461.8"/>
<path class="d" stroke-dasharray="1.5 2.5" d="M183,464 L189,463.5"/>
</g>
<g id="p30">
<ellipse class="w" style="stroke-width:1.2" cx="197.4" cy="483.3" rx="5.5" ry="4.1"/>
<ellipse class="l" cx="197.8" cy="482.6" rx="3" ry="2"/>
<path class="l" d="M192,484.5 C193,488.5 201.5,488.8 202.8,484.5 M195,486 l0.5,1.6 M198,486.6 l0,1.6 M200.6,485.8 l-0.3,1.6"/>
<path class="d" stroke-dasharray="1.2 3.5" d="M206,485.7 L216,487"/>
</g>
<g id="p29">
<path class="w" d="M194.8,494.5 C194.8,492 200.2,492 200.2,494.5 L200.2,501 L194.8,501 Z"/>
<path class="l" style="stroke-width:0.8" d="M195,496 l5,-0.8 M195,498 l5,-0.8 M195,500 l5,-0.8"/>
<path class="w" d="M192,501.5 C192,499.8 202.2,499.8 202.2,501.5 L202.2,505.5 C202.2,508.8 192,508.8 192,505.5 Z"/>
<path class="l" d="M192,502 C193.5,503.8 200.7,503.8 202.2,502"/>
<path class="d" stroke-dasharray="1.5 3" d="M184,497 L190,499.5"/>
</g>
<!-- ===== FWD arrow ===== -->
<g id="fwd">
<path class="w" style="stroke-width:1.3" d="M90.2,482.2 L100.2,465 L102.5,469 L122,458.7 L125,460.5 L124.7,474 L104,485.2 L101,490.5 Z"/>
<path class="l" style="stroke-width:0.9" d="M92,482 L100.8,467.8 L103.2,471.6 L122.4,461.6 L122.6,473 M122,458.7 L122.4,461.6"/>
<path d="M124.85,460.8 L124.6,474 L104,485.2 L101,490.5" stroke="#0a0a0a" stroke-width="1.9" stroke-linecap="round" stroke-linejoin="round" fill="none"/>
<text transform="translate(104.4,483) rotate(-27) skewX(-12)" font-family="Liberation Sans, sans-serif" font-weight="bold" font-size="13.5" fill="#111" stroke="#111" stroke-width="0.35" textLength="21" lengthAdjust="spacingAndGlyphs">FWD</text>
</g>

<!-- ===== clips ===== -->
<defs>
<g id="clip">
<path class="l" d="M-5,-1.2 C-5,-4 -2,-4.6 -0.8,-2 M-0.8,-9 L-0.8,-2 M1.2,-2 C3,-3.8 7,-2.8 7.6,-0.2 C7.8,1.6 6.6,2.2 6,1.4 M-2.6,0 C-3.6,3 -2,7 0.6,7.4 C2.2,7 2,3.8 0,0.6 M-5,-1.2 C-4.6,0.2 -3.4,0.6 -2.6,0 M1.2,-2 C2.4,-0.4 1.6,0.6 0,0.6"/>
</g>
</defs>
<g id="clips">
<use href="#clip" x="408.3" y="199.7"/>
<use href="#clip" x="407" y="301.5" />
<g transform="translate(456.5,228) scale(1.15)"><path class="l" d="M-7,-1.2 C-7,-4.5 -3,-5 -1.5,-2.5 M0,-5.5 L0,-2.5 M1.5,-2.5 C3,-4 7,-3 7.8,0 C8,2 6.8,2.6 6,1.6 M-2.6,0 C-3.8,3 -2,5.5 0.4,5.8 C2,5.4 1.8,3 0,0.6 M-7,-1.2 C-6.5,0.5 -4,0.8 -2.6,0 M1.5,-2.5 C2.4,-0.6 1.6,0.6 0,0.6"/></g>
<g transform="translate(453,347) scale(1.1)"><path class="l" d="M-7,-3 C-7,-6.5 -3,-7.2 -0.5,-5.5 C1.5,-7 5,-6 4.5,-3.2 M-7,-3 C-6.5,-1 -3,-0.5 -0.8,-2 C1.5,-0.5 4,-1.5 4.5,-3.2 M3,-1 C6,-1.8 9.5,0 9.6,2.6 C9.4,4.2 8,4 7.8,2.8 M-0.8,-2 C-2.5,1 -1.5,5.5 1,6 C2.6,5.5 2.2,2.5 0.8,-0.8"/></g>
<path class="dd" d="M407.7,189.7 L436.5,205.5"/>
<path class="d" stroke-dasharray="4 2" d="M466,230 L475,236.5"/>
</g>
<!-- leaders right -->
<g id="leadR">
<path class="l" d="M382.5,225.8 L403.5,200.5"/>
<path class="l" d="M384.7,254.2 L395.8,249.7"/>
<path class="l" d="M388.3,290.8 L400,297"/>
<path class="l" d="M430,236 L436.5,230.5"/>
<path class="l" d="M428.5,261 L435.5,255"/>
<path class="l" d="M486,244 L475.5,237"/>
<path class="l" d="M484,272 L462.5,269.5"/>
<path class="l" d="M484,305 L461.5,343.5"/>
<path class="d" stroke-dasharray="4 2" d="M483,160.6 L492,160"/>
</g>
<g id="labels">
<text transform="translate(102.2,22.2) scale(1.1,1)" class="t" style="font-size:13.0px">3</text><text transform="translate(110.9,22.2) scale(1.1,1)" class="t" style="font-size:13.0px">8</text>
<path d="M128.2,130.7 V140.0" stroke="#111" stroke-width="1.4" fill="none"/><text transform="translate(131.3,140.0) scale(1.1,1)" class="t" style="font-size:13.0px">3</text>
<path d="M229.3,176.4 V185.7" stroke="#111" stroke-width="1.4" fill="none"/><text transform="translate(232.4,185.7) scale(1.1,1)" class="t" style="font-size:13.0px">7</text>
<text transform="translate(410.2,134.2) scale(1.1,1)" class="t" style="font-size:13.0px">5</text>
<text transform="translate(319.7,217.0) scale(1.1,1)" class="t" style="font-size:13.0px">6</text>
<path d="M567.7,108.7 V118.0" stroke="#111" stroke-width="1.4" fill="none"/><text transform="translate(570.8,118.0) scale(1.1,1)" class="t" style="font-size:13.0px">4</text>
<path d="M495.5,154.7 V164.0" stroke="#111" stroke-width="1.4" fill="none"/><text transform="translate(498.6,164.0) scale(1.1,1)" class="t" style="font-size:13.0px">8</text>
<text transform="translate(373.4,237.6) scale(1.1,1)" class="t" style="font-size:13.0px">3</text><text transform="translate(382.1,237.6) scale(1.1,1)" class="t" style="font-size:13.0px">6</text>
<text transform="translate(366.2,261.7) scale(1.1,1)" class="t" style="font-size:13.0px">3</text><text transform="translate(374.9,261.7) scale(1.1,1)" class="t" style="font-size:13.0px">4</text>
<text transform="translate(417.2,246.8) scale(1.1,1)" class="t" style="font-size:13.0px">3</text><text transform="translate(425.9,246.8) scale(1.1,1)" class="t" style="font-size:13.0px">2</text>
<text transform="translate(419.2,270.8) scale(1.1,1)" class="t" style="font-size:13.0px">3</text><path d="M430.4,261.5 V270.8" stroke="#111" stroke-width="1.4" fill="none"/>
<text transform="translate(488.2,250.5) scale(1.1,1)" class="t" style="font-size:13.0px">3</text><text transform="translate(496.9,250.5) scale(1.1,1)" class="t" style="font-size:13.0px">5</text>
<text transform="translate(486.2,277.5) scale(1.1,1)" class="t" style="font-size:13.0px">3</text><text transform="translate(494.9,277.5) scale(1.1,1)" class="t" style="font-size:13.0px">3</text>
<text transform="translate(477.2,301.0) scale(1.1,1)" class="t" style="font-size:13.0px">3</text><text transform="translate(485.9,301.0) scale(1.1,1)" class="t" style="font-size:13.0px">5</text>
<text transform="translate(370.5,293.8) scale(1.1,1)" class="t" style="font-size:13.0px">3</text><text transform="translate(379.2,293.8) scale(1.1,1)" class="t" style="font-size:13.0px">6</text>
<text transform="translate(169.7,274.3) scale(1.1,1)" class="t" style="font-size:13.0px">2</text><text transform="translate(178.4,274.3) scale(1.1,1)" class="t" style="font-size:13.0px">6</text>
<path d="M265.0,301.9 V311.2" stroke="#111" stroke-width="1.4" fill="none"/><text transform="translate(268.1,311.2) scale(1.1,1)" class="t" style="font-size:13.0px">9</text>
<text transform="translate(266.7,365.2) scale(1.1,1)" class="t" style="font-size:13.0px">2</text><text transform="translate(275.4,365.2) scale(1.1,1)" class="t" style="font-size:13.0px">0</text>
<text transform="translate(313.9,389.7) scale(1.1,1)" class="t" style="font-size:13.0px">2</text><text transform="translate(322.6,389.7) scale(1.1,1)" class="t" style="font-size:13.0px">2</text>
<text transform="translate(337.9,404.8) scale(1.1,1)" class="t" style="font-size:13.0px">2</text><text transform="translate(346.6,404.8) scale(1.1,1)" class="t" style="font-size:13.0px">3</text>
<text transform="translate(359.2,419.7) scale(1.1,1)" class="t" style="font-size:13.0px">2</text><text transform="translate(367.9,419.7) scale(1.1,1)" class="t" style="font-size:13.0px">4</text>
<text transform="translate(430.2,478.2) scale(1.1,1)" class="t" style="font-size:13.0px">2</text><text transform="translate(438.9,478.2) scale(1.1,1)" class="t" style="font-size:13.0px">5</text>
<text transform="translate(164.7,438.6) scale(1.1,1)" class="t" style="font-size:13.0px">2</text><text transform="translate(173.4,438.6) scale(1.1,1)" class="t" style="font-size:13.0px">7</text>
<text transform="translate(163.7,469.2) scale(1.1,1)" class="t" style="font-size:13.0px">2</text><text transform="translate(172.4,469.2) scale(1.1,1)" class="t" style="font-size:13.0px">8</text>
<text transform="translate(164.2,499.7) scale(1.1,1)" class="t" style="font-size:13.0px">2</text><text transform="translate(172.9,499.7) scale(1.1,1)" class="t" style="font-size:13.0px">9</text>
<text transform="translate(223.8,494.8) scale(1.1,1)" class="t" style="font-size:13.0px">3</text><text transform="translate(232.5,494.8) scale(1.1,1)" class="t" style="font-size:13.0px">0</text>
<text transform="translate(291.3,377.8) scale(1.12,1)" class="t" style="font-size:10.8px">2</text><path d="M302.3,370.1 V377.8" stroke="#111" stroke-width="1.4" fill="none"/>
<text x="85.5" y="511.2" class="ts">1JN010-5240</text>
</g>

</svg>
</body>
</html>
